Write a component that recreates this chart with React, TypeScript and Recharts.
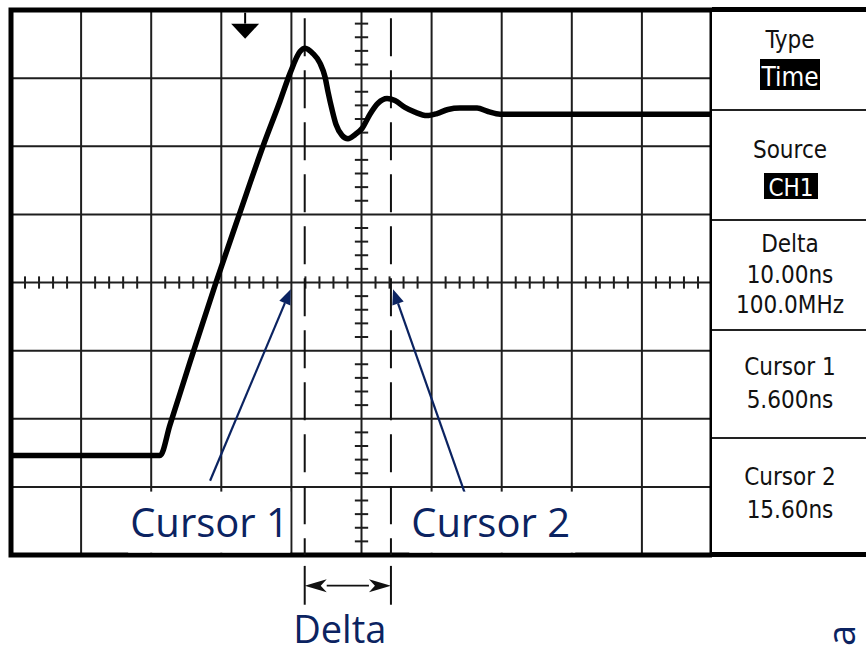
import React from "react";
import {
  CartesianGrid,
  Line,
  LineChart,
  ReferenceArea,
  ReferenceDot,
  ReferenceLine,
  XAxis,
  YAxis,
} from "recharts";

// graticule do osciloscópio: 10 divisões horizontais x 8 verticais
const divisoesX = [0, 1, 2, 3, 4, 5, 6, 7, 8, 9, 10];
const divisoesY = [-4, -3, -2, -1, 0, 1, 2, 3, 4];
const subX = divisoesX.slice(0, -1).flatMap((d) => [0.2, 0.4, 0.6, 0.8].map((f) => d + f));
const subY = divisoesY.slice(0, -1).flatMap((d) => [0.2, 0.4, 0.6, 0.8].map((f) => d + f));

const tempo = [
  0, 2.126, 2.268, 2.553, 2.924, 3.267, 3.595, 3.837, 3.98, 4.123, 4.194, 4.308, 4.408,
  4.479, 4.522, 4.579, 4.636, 4.722, 4.807, 4.907, 5.007, 5.121, 5.235, 5.364, 5.478,
  5.62, 5.763, 5.934, 6.077, 6.234, 6.405, 6.648, 6.805, 6.976, 10,
];
const tensao = [
  -2.54, -2.54, -2.09, -1.17, 0, 1.03, 2.0, 2.66, 3.07, 3.39, 3.44, 3.36, 3.22,
  3.02, 2.8, 2.54, 2.32, 2.16, 2.11, 2.17, 2.26, 2.47, 2.63, 2.7, 2.67,
  2.57, 2.5, 2.45, 2.48, 2.54, 2.56, 2.56, 2.51, 2.47, 2.47,
];

const cursor1 = 4.19;
const cursor2 = 5.42;
const gatilho = 3.34;

const menuTitulos = ["Type", "Source", "Delta", "Cursor 1", "Cursor 2"];
const menuValores = [["Time"], ["CH1"], ["10.00ns", "100.0MHz"], ["5.600ns"], ["15.60ns"]];

const dados = tempo.map((t, i) => ({ t, v: tensao[i] }));

const AZUL = "#0b2361";
const FONTE_MENU = "'DejaVu Sans Condensed', 'DejaVu Sans', sans-serif";
const FONTE_NOTA = "'Open Sans', sans-serif";

function seta(p: any) {
  const { x1, y1, x2, y2 } = p;
  const ang = Math.atan2(y2 - y1, x2 - x1);
  const c = Math.cos(ang);
  const s = Math.sin(ang);
  const L = 15;
  const w = 6;
  const bx = x2 - c * L;
  const by = y2 - s * L;
  return (
    <g>
      <line x1={x1} y1={y1} x2={bx} y2={by} stroke={AZUL} strokeWidth={2.2} />
      <polygon
        points={`${x2},${y2} ${bx - s * w},${by + c * w} ${bx + s * w},${by - c * w}`}
        fill={AZUL}
      />
    </g>
  );
}

function setaDupla(p: any) {
  const { x1, y1, x2 } = p;
  const L = 22;
  const w = 6.5;
  return (
    <g>
      <line x1={x1 + L} y1={y1} x2={x2 - L} y2={y1} stroke="#111" strokeWidth={1.6} />
      <polygon
        points={`${x1},${y1} ${x1 + L},${y1 - w} ${x1 + L - 6},${y1} ${x1 + L},${y1 + w}`}
        fill="#111"
      />
      <polygon
        points={`${x2},${y1} ${x2 - L},${y1 - w} ${x2 - L + 6},${y1} ${x2 - L},${y1 + w}`}
        fill="#111"
      />
    </g>
  );
}

function rotulo(texto: string, largura: number) {
  return (p: any) => (
    <g>
      <rect x={p.cx - 2} y={p.cy - 45} width={largura} height={61} fill="#fff" />
      <text x={p.cx} y={p.cy} fill={AZUL} fontFamily={FONTE_NOTA} fontSize={40}>
        {texto}
      </text>
    </g>
  );
}

function Menu() {
  const cortes = [110, 220, 330, 438];
  const topos = [48, 158, 252, 375, 485];
  return (
    <svg
      width={154}
      height={653}
      style={{ position: "absolute", left: 712, top: 0 }}
      fontFamily={FONTE_MENU}
    >
      <line x1={0} y1={9.5} x2={154} y2={9.5} stroke="#000" strokeWidth={5} />
      <line x1={0} y1={554.5} x2={154} y2={554.5} stroke="#000" strokeWidth={5} />
      {cortes.map((y) => (
        <line key={y} x1={0} y1={y} x2={154} y2={y} stroke="#222" strokeWidth={2} />
      ))}
      {menuTitulos.map((tit, i) => (
        <text key={tit} x={78} y={topos[i]} textAnchor="middle" fontSize={24} fill="#111">
          {tit}
        </text>
      ))}
      <rect x={48} y={59} width={60} height={31} fill="#000" />
      <text x={78} y={86} textAnchor="middle" fontSize={26} fill="#fff">
        {menuValores[0][0]}
      </text>
      <rect x={52} y={173} width={54} height={26} fill="#000" />
      <text x={79} y={196} textAnchor="middle" fontSize={24} fill="#fff">
        {menuValores[1][0]}
      </text>
      <text x={78} y={283} textAnchor="middle" fontSize={24} fill="#111">
        {menuValores[2][0]}
      </text>
      <text x={78} y={313} textAnchor="middle" fontSize={24} fill="#111">
        {menuValores[2][1]}
      </text>
      <text x={78} y={408} textAnchor="middle" fontSize={24} fill="#111">
        {menuValores[3][0]}
      </text>
      <text x={78} y={518} textAnchor="middle" fontSize={24} fill="#111">
        {menuValores[4][0]}
      </text>
      <text
        x={0}
        y={0}
        transform="translate(143,646) rotate(-90)"
        fontFamily={FONTE_NOTA}
        fontSize={38}
        fill={AZUL}
      >
        a
      </text>
    </svg>
  );
}

export default function App() {
  return (
    <div style={{ position: "absolute", left: 0, top: 0, width: 866, height: 653, background: "#fff" }}>
      <LineChart width={712} height={653} data={dados} margin={{ top: 10, left: 11, right: 0, bottom: 98 }}>
        <XAxis dataKey="t" type="number" domain={[0, 10]} ticks={divisoesX} hide />
        <YAxis type="number" domain={[-4, 4]} ticks={divisoesY} hide />
        <CartesianGrid stroke="#1e1e1e" strokeWidth={2} />
        {subX.map((x) => (
          <ReferenceLine
            key={"sx" + x}
            segment={[{ x, y: -0.09 }, { x, y: 0.09 }]}
            stroke="#1e1e1e"
            strokeWidth={2}
          />
        ))}
        {subY.map((y) => (
          <ReferenceLine
            key={"sy" + y}
            segment={[{ x: 4.905, y }, { x: 5.095, y }]}
            stroke="#1e1e1e"
            strokeWidth={2}
          />
        ))}
        {[cursor1, cursor2].map((c) => (
          <ReferenceLine
            key={"c" + c}
            segment={[{ x: c, y: 3.88 }, { x: c, y: -4 }]}
            stroke="#111"
            strokeWidth={2}
            strokeDasharray="38 14"
          />
        ))}
        {[cursor1, cursor2].map((c) => (
          <ReferenceLine
            key={"e" + c}
            segment={[{ x: c, y: -4.16 }, { x: c, y: -4.73 }]}
            stroke="#111"
            strokeWidth={2}
            ifOverflow="visible"
          />
        ))}
        <ReferenceLine
          segment={[{ x: cursor1, y: -4.45 }, { x: cursor2, y: -4.45 }]}
          ifOverflow="visible"
          shape={setaDupla}
        />
        <ReferenceArea x1={0} x2={10} y1={-4} y2={4} fill="none" stroke="#000" strokeWidth={5} />
        <ReferenceDot
          x={gatilho}
          y={3.8}
          r={0}
          shape={(p: any) => (
            <g>
              <line x1={p.cx} y1={p.cy - 11} x2={p.cx} y2={p.cy} stroke="#000" strokeWidth={2} />
              <polygon points={`${p.cx - 14},${p.cy} ${p.cx + 14},${p.cy} ${p.cx},${p.cy + 15}`} fill="#000" />
            </g>
          )}
        />
        <Line type="monotone" dataKey="v" stroke="#000" strokeWidth={5.5} dot={false} isAnimationActive={false} />
        <ReferenceDot x={1.7} y={-3.73} r={0} shape={rotulo("Cursor 1", 162)} />
        <ReferenceDot x={5.71} y={-3.73} r={0} shape={rotulo("Cursor 2", 166)} />
        <ReferenceDot
          x={4.69}
          y={-5.29}
          r={0}
          ifOverflow="visible"
          shape={(p: any) => (
            <text x={p.cx} y={p.cy} textAnchor="middle" fill={AZUL} fontFamily={FONTE_NOTA} fontSize={38}>
              Delta
            </text>
          )}
        />
        <ReferenceLine segment={[{ x: 2.84, y: -2.91 }, { x: 3.99, y: -0.1 }]} shape={seta} />
        <ReferenceLine segment={[{ x: 6.49, y: -3.14 }, { x: 5.45, y: -0.1 }]} shape={seta} />
      </LineChart>
      <Menu />
    </div>
  );
}
